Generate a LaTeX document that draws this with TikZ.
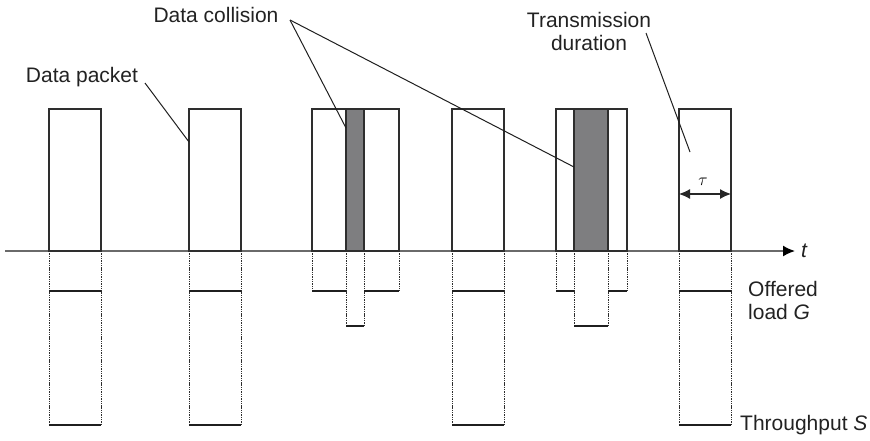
\documentclass[tikz,border=0pt]{standalone}
\usepackage{fontspec}
\setmainfont{Liberation Sans}
\usetikzlibrary{arrows.meta}
\definecolor{edgecol}{HTML}{2E2E2E}
\definecolor{axiscol}{HTML}{6A6A6A}
\definecolor{collcol}{HTML}{7E7E80}
\definecolor{textcol}{HTML}{222222}
\begin{document}
\begin{tikzpicture}[x=1pt,y=-1pt,
  packetbox/.style={draw=edgecol, line width=1.1pt},
  collbox/.style={draw=edgecol, fill=collcol, line width=1.1pt},
  bottomedge/.style={draw=edgecol, line width=2pt},
  guide/.style={draw=black!82, line width=1pt, dash pattern=on 1.4pt off 0.9pt},
  levelline/.style={draw=black!88, line width=2.3pt},
  lbl/.style={font=\fontsize{21}{23}\selectfont, text=textcol, inner sep=0pt},
  pointer/.style={draw=black!88, line width=1pt},
]
\useasboundingbox (0,0) rectangle (870,440);

% time axis
\coordinate (axL) at (5,251);
\coordinate (axR) at (795,251);
\draw[axiscol, line width=1.6pt, -{Latex[length=12pt,width=11pt,black]}] (axL) -- (axR);
\node[lbl, anchor=west, font=\fontsize{21}{23}\selectfont\itshape] (tlab) at (801,251) {t};

% single (successful) packets
\foreach \l/\r in {49/101, 189/241, 452/504, 679/731}{
  \draw[packetbox] (\l,109) rectangle (\r,251);
  \draw[guide] (\l,251) -- (\l,425);
  \draw[guide] (\r,251) -- (\r,425);
  \draw[levelline] (\l,291) -- (\r,291);
  \draw[levelline] (\l,425) -- (\r,425);
  \draw[bottomedge] (\l,251) -- (\r,251);
}

% collided packet pairs
\foreach \a/\b/\c/\d in {312/346/364/399, 556/574/608/627}{
  \draw[collbox] (\b,109) rectangle (\c,251);
  \draw[packetbox] (\a,109) rectangle (\d,251);
  \draw[guide] (\a,251) -- (\a,291);
  \draw[guide] (\d,251) -- (\d,291);
  \draw[guide] (\b,251) -- (\b,326);
  \draw[guide] (\c,251) -- (\c,326);
  \draw[levelline] (\a,291) -- (\b,291);
  \draw[levelline] (\c,291) -- (\d,291);
  \draw[levelline] (\b,326) -- (\c,326);
  \draw[bottomedge] (\a,251) -- (\d,251);
}

% transmission duration tau
\coordinate (tauL) at (679,194);
\coordinate (tauR) at (731,194);
\draw[black!85, line width=1.1pt, {Latex[length=11pt,width=10pt]}-{Latex[length=11pt,width=10pt]}] (tauL) -- (tauR);
\node[inner sep=0pt, font=\fontsize{18}{20}\selectfont] (taulab) at (703,182) {$\tau$};

% labels
\node[lbl] (dcol) at (216,15) {Data collision};
\node[lbl] (dpack) at (82,77) {Data packet};
\node[lbl, align=center] (tdur) at (589,31) {Transmission\\duration};
\node[lbl, anchor=west, align=left] (oload) at (748,300) {Offered\\load \textit{G}};
\node[lbl, anchor=west] (thr) at (740,425) {Throughput \textit{S}};

% pointers
\coordinate (dcTip) at (290,20);
\coordinate (col1) at (346,128);
\coordinate (col2) at (574,167);
\coordinate (dpTip) at (145,83);
\coordinate (pk2) at (189,142);
\coordinate (tdTip) at (646,33);
\coordinate (pk6) at (690,152);
\draw[pointer] (dcTip) -- (col1);
\draw[pointer] (dcTip) -- (col2);
\draw[pointer] (dpTip) -- (pk2);
\draw[pointer] (tdTip) -- (pk6);
\end{tikzpicture}
\end{document}
